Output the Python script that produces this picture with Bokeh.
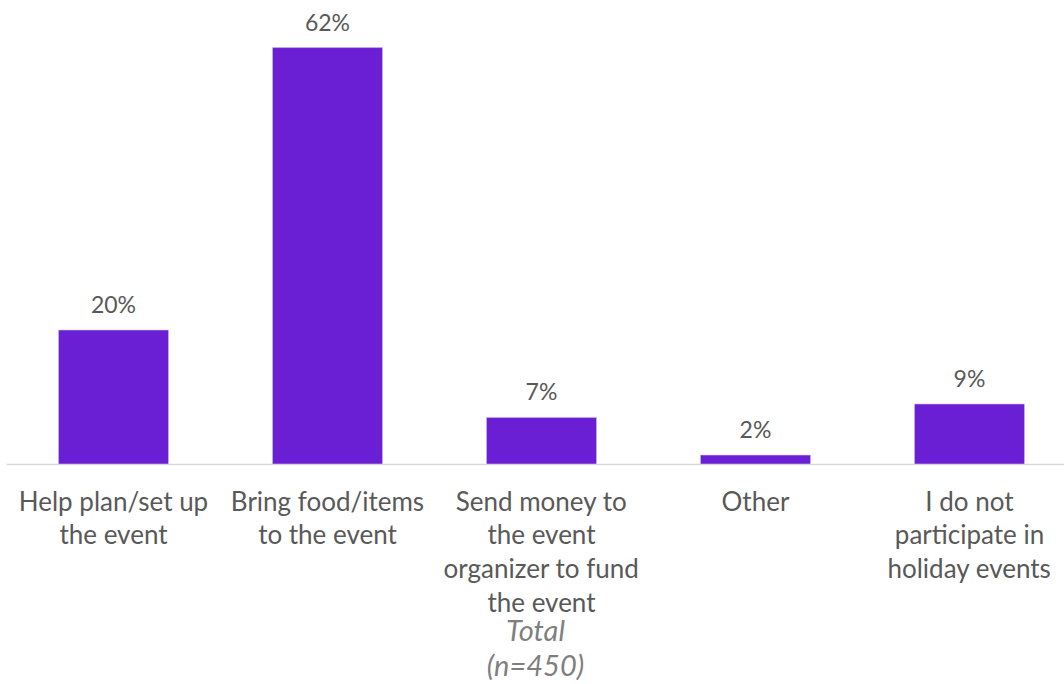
from bokeh.plotting import figure
from bokeh.models import ColumnDataSource, FixedTicker, LabelSet, Range1d
from bokeh.core.properties import value
from bokeh.embed import file_html
from bokeh.resources import INLINE

categories = [
    "Help plan/set up\nthe event",
    "Bring food/items\nto the event",
    "Send money to\nthe event\norganizer to fund\nthe event",
    "Other",
    "I do not\nparticipate in\nholiday events",
]
values = [20, 62, 7, 1.4, 9]
value_labels = ["20%", "62%", "7%", "2%", "9%"]
axis_title = "Total\n(n=450)"

FONT = "Lato"
BAR = "#6B1FD4"
TEXT = "#595959"

xs = list(range(len(categories)))
src = ColumnDataSource(dict(x=xs, top=values, lab=value_labels))

p = figure(frame_width=1058, frame_height=464, output_backend="svg", toolbar_location=None,
           x_range=Range1d(-0.5, 4.444), y_range=Range1d(0, 69.0),
           min_border_left=6, min_border_right=0, min_border_top=0, min_border_bottom=0)

p.vbar(x="x", top="top", bottom=0, width=0.514, source=src, fill_color=BAR,
       line_color="#c8c0e0", line_width=0.6)

labels = LabelSet(x="x", y="top", text="lab", source=src, text_align="center",
                  text_baseline="bottom", y_offset=12, text_font=value(FONT),
                  text_font_size="23px", text_color=TEXT)
p.add_layout(labels)

p.xaxis.ticker = FixedTicker(ticks=xs)
p.xaxis.major_label_overrides = {i: c for i, c in enumerate(categories)}
p.xaxis.major_label_text_font = FONT
p.xaxis.major_label_text_font_size = "26px"
p.xaxis.major_label_text_line_height = 1.06
p.xaxis.major_label_text_color = TEXT
p.xaxis.major_label_standoff = 14
p.xaxis.major_tick_line_color = None
p.xaxis.minor_tick_line_color = None
p.xaxis.axis_line_color = "#d9d9d9"
p.xaxis.axis_line_width = 1.5
p.xaxis.axis_label = axis_title
p.xaxis.axis_label_text_font = FONT
p.xaxis.axis_label_text_font_style = "italic"
p.xaxis.axis_label_text_font_size = "29px"
p.xaxis.axis_label_text_line_height = 1.0
p.xaxis.axis_label_text_color = "#7f7f7f"
p.xaxis.axis_label_standoff = -9

p.yaxis.visible = False
p.xgrid.grid_line_color = None
p.ygrid.grid_line_color = None
p.outline_line_color = None

open("out.html", "w").write(file_html(p, INLINE))
